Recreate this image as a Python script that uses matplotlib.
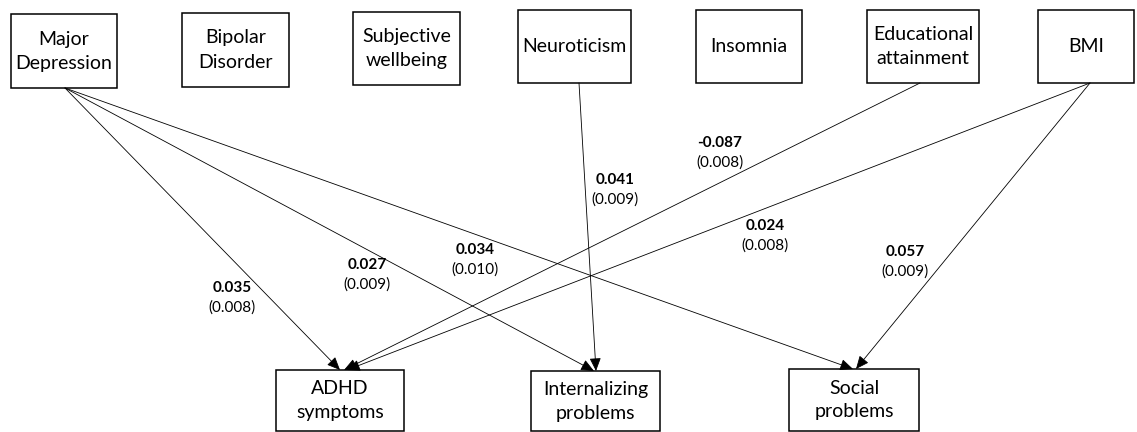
import matplotlib
matplotlib.use("Agg")
import matplotlib.pyplot as plt
from matplotlib.patches import Rectangle

plt.rcParams['font.family'] = ['Lato', 'DejaVu Sans']

# ---- data ----
exposures = ["Major\nDepression", "Bipolar\nDisorder", "Subjective\nwellbeing",
             "Neuroticism", "Insomnia", "Educational\nattainment", "BMI"]
outcomes = ["ADHD\nsymptoms", "Internalizing\nproblems", "Social\nproblems"]

# paths: (exposure index, outcome index, estimate, se)
path_from = [0, 0, 0, 3, 5, 6, 6]
path_to = [0, 1, 2, 1, 0, 0, 2]
estimates = ["0.035", "0.027", "0.034", "0.041", "-0.087", "0.024", "0.057"]
std_errors = ["(0.008)", "(0.009)", "(0.010)", "(0.009)", "(0.008)", "(0.008)", "(0.009)"]

# ---- layout (pixels, y downward) ----
top_boxes = [(11, 14, 106, 74), (182, 13, 107, 74), (353, 12, 107, 73),
             (518, 10, 113, 73), (696, 10, 106, 73), (867, 10, 112, 73),
             (1038, 10, 96, 73)]
bottom_boxes = [(276, 370, 128, 61), (531, 371, 129, 60), (789, 369, 130, 62)]
starts = {0: (65, 88), 3: (579, 83), 5: (920, 83), 6: (1090, 83)}
ends = {(0, 0): (340, 370), (0, 1): (594, 371), (0, 2): (853, 369),
        (3, 1): (596, 371), (5, 0): (344, 370), (6, 0): (347, 370),
        (6, 2): (856, 369)}
label_pos = [(232, 288), (367, 265), (475, 250), (615, 180),
             (720, 143), (765, 226), (905, 252)]

fig = plt.figure(figsize=(11.37, 4.32), dpi=100)
ax = fig.add_axes([0, 0, 1, 1])
ax.set_xlim(0, 1137)
ax.set_ylim(432, 0)
ax.axis('off')

def draw_box(box, text):
    x, y, w, h = box
    ax.add_patch(Rectangle((x, y), w, h, fill=False, edgecolor='black', linewidth=1.1))
    ax.text(x + w / 2, y + h / 2, text, ha='center', va='center', fontsize=14,
            linespacing=1.5)

for box, name in zip(top_boxes, exposures):
    draw_box(box, name)
for box, name in zip(bottom_boxes, outcomes):
    draw_box(box, name)

for i, j in zip(path_from, path_to):
    ax.annotate("", xy=ends[(i, j)], xytext=starts[i],
                arrowprops=dict(arrowstyle='-|>,head_length=0.8,head_width=0.35',
                                color='black', lw=0.6, shrinkA=0, shrinkB=0))

for (lx, ly), est, se in zip(label_pos, estimates, std_errors):
    ax.text(lx, ly, est, ha='center', va='center', fontsize=11, fontweight='bold')
    ax.text(lx, ly + 20, se, ha='center', va='center', fontsize=11)

fig.savefig("out.png", dpi=100)
